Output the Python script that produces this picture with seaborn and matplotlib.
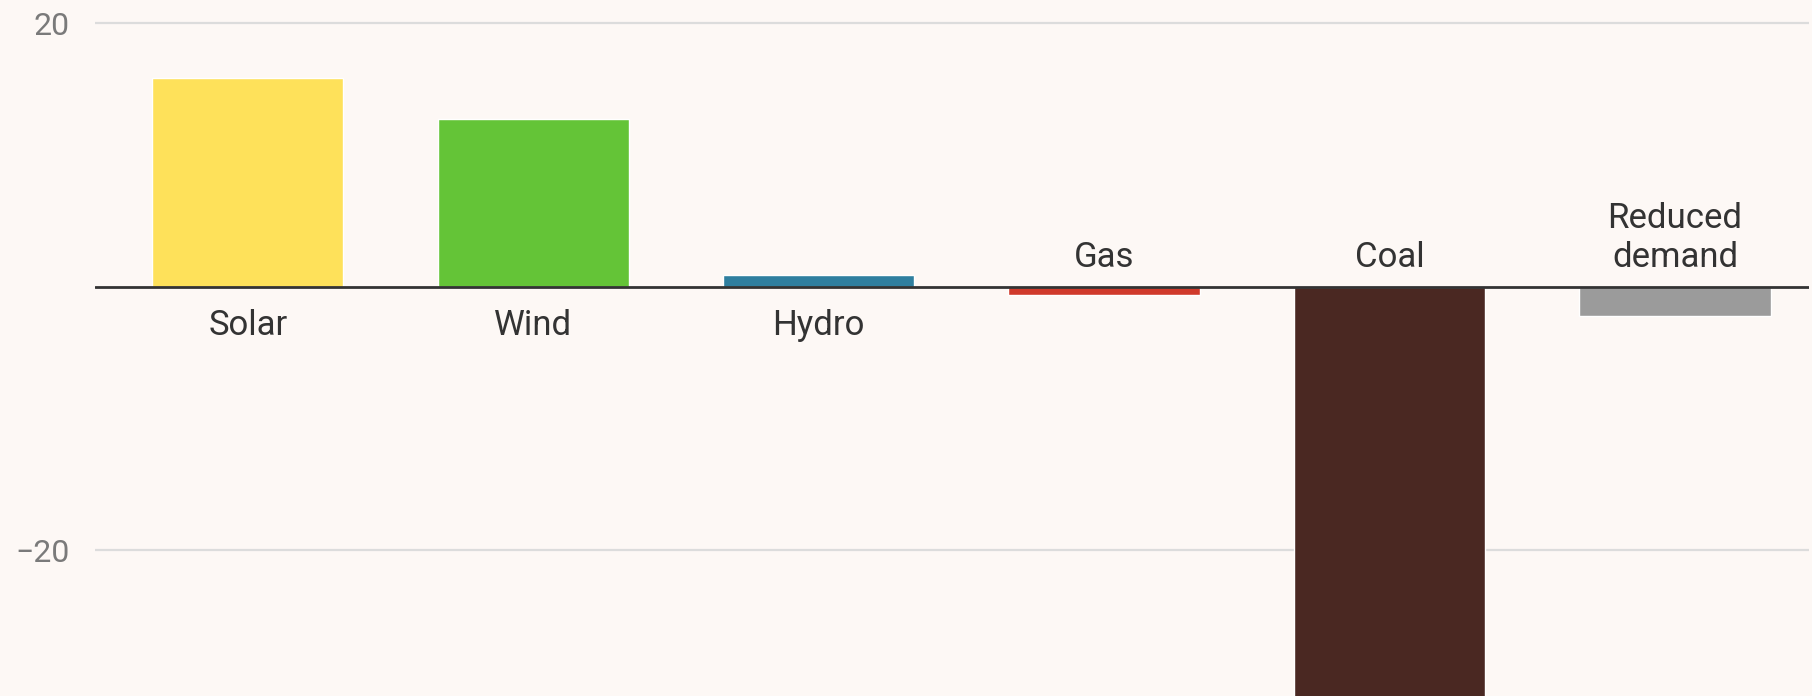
import matplotlib
matplotlib.use("Agg")
import matplotlib.pyplot as plt
import seaborn as sns
import pandas as pd
from matplotlib.transforms import offset_copy

# Change in generation by source (TWh)
sources = ["Solar", "Wind", "Hydro", "Gas", "Coal", "Reduced demand"]
labels = ["Solar", "Wind", "Hydro", "Gas", "Coal", "Reduced\ndemand"]
change = [15.8, 12.7, 0.9, -0.6, -33.0, -2.2]
colors = ["#FEE15A", "#64C437", "#2F7F9F", "#D03A2B", "#4A2822", "#9B9B9B"]
yticks = [-20, 20]
ytick_labels = ["\u221220", "20"]

bg = "#FDF8F5"
sns.set_theme(style="white")
plt.rcParams["font.family"] = ["Roboto", "DejaVu Sans"]

fig = plt.figure(figsize=(18.12, 6.96), dpi=100, facecolor=bg)
ax = fig.add_axes([0.0523, 0.0, 0.9458, 1.0], facecolor=bg)

df = pd.DataFrame({"source": sources, "change": change})
sns.barplot(data=df, x="source", y="change", hue="source",
            palette=dict(zip(sources, colors)), order=sources,
            width=0.67, legend=False, ax=ax, saturation=1)

ax.set_ylim(-31.05, 21.75)
ax.set_xlim(-0.536, 5.468)
ax.set_yticks(yticks)
ax.set_yticklabels(ytick_labels)
ax.set_xticks([])
ax.set_xlabel("")
ax.set_ylabel("")
for s in ax.spines.values():
    s.set_visible(False)
ax.tick_params(axis="y", length=0, pad=18, labelsize=23, labelcolor="#7a7a7a")
for t in ax.get_yticklabels():
    t.set_horizontalalignment("right")

for y in yticks:
    ax.axhline(y, color="#dcdcdc", lw=1.6, zorder=0)
ax.axhline(0, color="#333333", lw=2, zorder=5)

# Category names sit on the opposite side of the zero line from the bar
for i, (lab, v) in enumerate(zip(labels, change)):
    if v >= 0:
        tr = offset_copy(ax.transData, fig=fig, x=0, y=-16, units="points")
        ax.text(i, 0, lab, transform=tr, ha="center", va="top",
                fontsize=25, color="#333333", linespacing=1.25)
    else:
        tr = offset_copy(ax.transData, fig=fig, x=0, y=9, units="points")
        ax.text(i, 0, lab, transform=tr, ha="center", va="bottom",
                fontsize=25, color="#333333", linespacing=1.25)

fig.savefig("out.png", dpi=100, facecolor=bg)
